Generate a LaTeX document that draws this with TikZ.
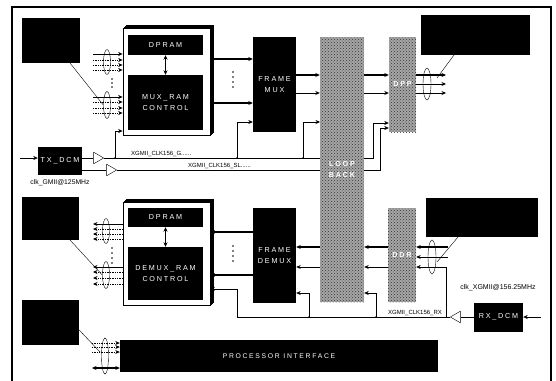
\documentclass[tikz,border=0pt]{standalone}
\usepackage{fontspec}
\setmainfont{Liberation Sans}
\newfontfamily\boxfont[LetterSpace=25]{Liberation Sans}
\usetikzlibrary{arrows.meta,patterns,shapes.geometric}

\tikzset{
  blk/.style={fill=black,text=white,inner sep=0pt,align=center,
    font=\boxfont\fontsize{7.2}{11}\selectfont},
  dots/.style={fill=black!35,text=white,inner sep=0pt,align=center,
    font=\boxfont\bfseries\fontsize{7.2}{11}\selectfont,
    postaction={pattern=crosshatch dots,pattern color=black!80}},
  ram/.style={draw,thick,fill=white,inner sep=0pt},
  grp/.style={draw,ellipse,inner sep=0pt,minimum width=7pt},
  buf/.style={draw,fill=white,isosceles triangle,isosceles triangle apex angle=60,
    inner sep=0pt,minimum height=10pt},
  bus/.style={->,line width=1.3pt},
  clk/.style={->,line width=0.6pt},
  sig/.style={line width=0.7pt}
}

\begin{document}
\begin{tikzpicture}[x=1pt,y=-1pt,>={Stealth[length=4.5pt,width=4pt]},
    every node/.style={font=\fontsize{6}{7}\selectfont}]
\useasboundingbox (0,0) rectangle (556,380);
\draw[line width=1.2pt] (12,381) -- (12,7) -- (551,7) -- (551,381);

% clocks first, the loop back box goes on top
\node[blk,minimum width=44,minimum height=28] (txdcm) at (60,161) {TX\_DCM};
\node[buf] (tbufa) at (97,158) {};
\node[buf] (tbufb) at (110,170) {};
\coordinate (txin) at (20,158);
\coordinate (tupa) at (373,158);
\coordinate (tupb) at (380,170);
\draw[clk] (txin) -- (txdcm.west |- txin);
\draw[sig] (txdcm.east |- tbufa) -- (tbufa.west);
\draw[sig] (txdcm.east |- tbufb) -- (tbufb.west);
\node[font=\fontsize{6.8}{8}\selectfont] at (60,183) {clk\_GMII@125MHz};

\node[blk,minimum width=49,minimum height=29] (rxdcm) at (498.5,317) {RX\_DCM};
\node[buf,shape border rotate=180] (rbuf) at (457,317) {};
\coordinate (rxin) at (541,317);
\draw[clk] (rxin) -- (rxdcm.east);
\draw[sig] (rxdcm.west) -- (rbuf.east);
\node[font=\fontsize{7}{8}\selectfont] at (498,288) {clk\_XGMII@156.25MHz};

% TX side
\foreach \d in {3,2,1}
  \draw[fill=black!45] (123+\d,28-\d) rectangle (210+\d,135-\d);
\node[ram,minimum width=87,minimum height=107] (muxram) at (166.5,81.5) {};
\node[blk,minimum width=75,minimum height=20] (dprama) at (165.5,45) {DPRAM};
\node[blk,minimum width=75,minimum height=55] (muxctl) at (165.5,102.5) {MUX\_RAM\\CONTROL};
\draw[<->,line width=1.6pt] (dprama) -- (muxctl);

\node[blk,minimum width=43,minimum height=95] (framemux) at (274.5,84.5) {FRAME\\MUX};
\node[dots,minimum width=27,minimum height=95] (dpp) at (402.5,84.5) {DPP};

\draw[clk] (tbufa.east) -- (tupa) |- (dpp.west |- 0,123);
\draw[clk] (tbufb.east) -- (tupb) |- (dpp.west |- 0,128);
\node[anchor=south west,inner sep=1pt] at (130,158) {XGMII\_CLK156\_G......};
\node[anchor=south west,inner sep=1pt] at (187,170) {XGMII\_CLK156\_SL......};
\foreach \x/\y/\n in {115/131/muxram,237/122/framemux}
  \draw[clk] (\x,158) |- (\n.west |- 0,\y);
\draw[clk] (303,158) |- (320,122);
\foreach \x in {115,237,303}
  \fill (\x,158) circle (1pt);

\node[dots,minimum width=44,minimum height=265] (loopback) at (342,169.5) {LOOP\\BACK};

\foreach \y in {59,103}
  \draw[bus] (muxram.east |- 0,\y) -- (framemux.west |- 0,\y);
\foreach \y in {72,77,82,87}
  \fill (233,\y) circle (0.9);
\draw[bus] (framemux.east |- 0,75) -- (loopback.west |- 0,75);
\draw[->,sig] (framemux.east |- 0,93) -- (loopback.west |- 0,93);
\draw[bus] (loopback.east |- 0,75) -- (dpp.west |- 0,75);
\draw[->,sig] (loopback.east |- 0,93) -- (dpp.west |- 0,93);

% TX inputs and outputs
\node[blk,minimum width=58,minimum height=45] (ina) at (51,40.5) {};
\foreach \y/\s in {54/solid,60/densely dotted,65/densely dotted,70/densely dotted,
                   97/solid,102/densely dotted,108/densely dotted,113/densely dotted}
  \draw[->,sig,\s] (93,\y) -- (muxram.west |- 0,\y);
\node[grp,minimum height=25] (grpa) at (107,62) {};
\node[grp,minimum height=27] (grpb) at (107,105) {};
\foreach \y in {79,83,87}
  \fill (112,\y) circle (0.9);
\draw[thin] (70,63) -- (grpb.west);

\node[blk,minimum width=109,minimum height=40] (outa) at (475.5,35) {};
\draw[bus] (dpp.east |- 0,75) -- (446,75);
\foreach \y in {84,93}
  \draw[->,sig] (dpp.east |- 0,\y) -- (446,\y);
\node[grp,minimum width=8,minimum height=32] (grpc) at (427,84) {};
\draw[thin] (454,55) -- (437,78);

% RX side
\foreach \d in {3,2,1}
  \draw[fill=black!45] (123+\d,202-\d) rectangle (210+\d,305-\d);
\node[ram,minimum width=87,minimum height=103] (demuxram) at (166.5,253.5) {};
\node[blk,minimum width=75,minimum height=19] (dpramb) at (165.5,217.5) {DPRAM};
\node[blk,minimum width=75,minimum height=53] (demuxctl) at (165.5,273.5) {DEMUX\_RAM\\CONTROL};
\draw[<->,line width=1.6pt] (dpramb) -- (demuxctl);

\node[blk,minimum width=43,minimum height=95] (framedemux) at (274.5,255.5) {FRAME\\DEMUX};
\node[dots,minimum width=28,minimum height=94] (ddr) at (402,255) {DDR};

\draw[sig] (rbuf.west) -- (237,317);
\draw[clk] (237,317) |- (demuxram.east |- 0,289);
\draw[clk] (309,317) |- (framedemux.east |- 0,293);
\draw[clk] (376,317) |- (loopback.east |- 0,293);
\draw[clk] (446,317) |- (ddr.east |- 0,267);
\foreach \x in {309,376}
  \fill (\x,317) circle (1pt);
\node[anchor=south,inner sep=1pt] at (415,317) {XGMII\_CLK156\_RX};

\foreach \y in {232,275}
  \draw[bus] (framedemux.west |- 0,\y) -- (demuxram.east |- 0,\y);
\foreach \y in {246,251,256,261}
  \fill (233,\y) circle (0.9);
\draw[bus] (loopback.west |- 0,247) -- (framedemux.east |- 0,247);
\draw[->,sig] (loopback.west |- 0,267) -- (framedemux.east |- 0,267);
\draw[bus] (ddr.west |- 0,247) -- (loopback.east |- 0,247);
\draw[->,sig] (ddr.west |- 0,267) -- (loopback.east |- 0,267);
\draw[bus] (448,247) -- (ddr.east |- 0,247);
\draw[->,sig] (448,257) -- (ddr.east |- 0,257);
\node[grp,minimum width=8,minimum height=34] (grpd) at (432,257) {};
\node[blk,minimum width=112,minimum height=39] (outb) at (482,217.5) {};
\draw[thin] (458,237) -- (437,262);

\node[blk,minimum width=57,minimum height=43] (inb) at (50.5,218.5) {};
\foreach \y/\s in {224/solid,229/densely dotted,234/densely dotted,239/densely dotted,
                   267/solid,272/densely dotted,278/densely dotted,284/densely dotted}
  \draw[->,sig,\s] (demuxram.west |- 0,\y) -- (93,\y);
\node[grp,minimum height=25] (grpe) at (106,231) {};
\node[grp,minimum height=27] (grpf) at (106,275) {};
\foreach \y in {248,253,258,263}
  \fill (112,\y) circle (0.9);
\draw[thin] (70,240) -- (grpf.west);

% processor
\node[blk,minimum width=318,minimum height=32,font=\boxfont\fontsize{6.8}{10}\selectfont]
  (proc) at (279,356) {PROCESSOR INTERFACE};
\node[blk,minimum width=57,minimum height=45] (inc) at (50.5,322.5) {};
\foreach \y in {343,347,352}
  \draw[->,sig,densely dotted] (92,\y) -- (proc.west |- 0,\y);
\draw[<->,line width=1.3pt] (92,368) -- (proc.west |- 0,368);
\node[grp,minimum height=36] (grpg) at (105,356) {};
\draw[thin] (inc.east |- 0,330) -- (100,352);
\end{tikzpicture}
\end{document}
